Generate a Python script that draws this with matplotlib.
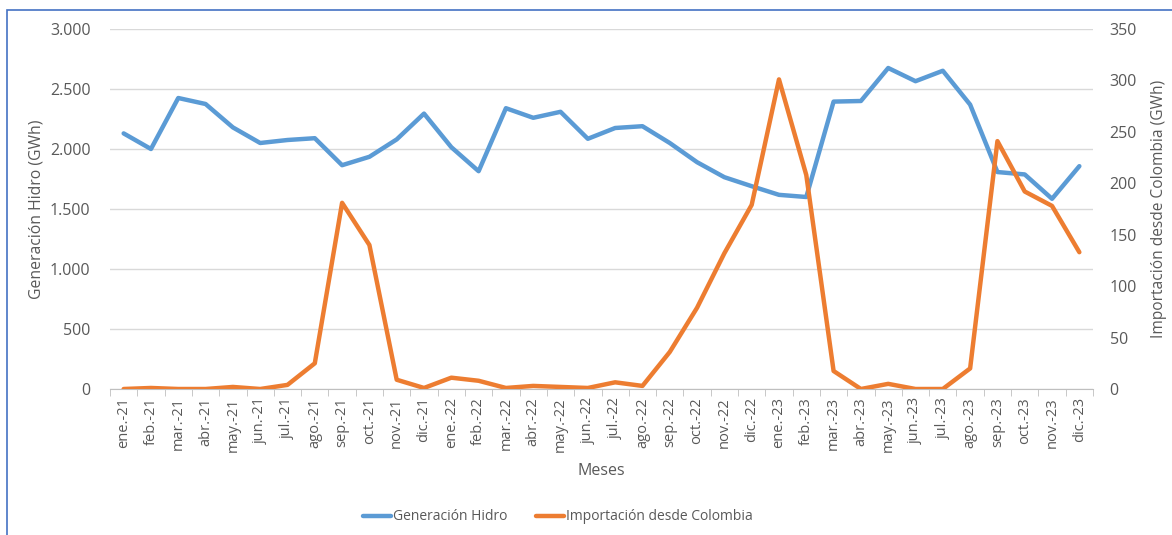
import numpy as np
import matplotlib.pyplot as plt
from matplotlib.patches import Rectangle
from matplotlib.ticker import FuncFormatter

# meses
meses = ['ene.-21', 'feb.-21', 'mar.-21', 'abr.-21', 'may.-21', 'jun.-21',
         'jul.-21', 'ago.-21', 'sep.-21', 'oct.-21', 'nov.-21', 'dic.-21',
         'ene.-22', 'feb.-22', 'mar.-22', 'abr.-22', 'may.-22', 'jun.-22',
         'jul.-22', 'ago.-22', 'sep.-22', 'oct.-22', 'nov.-22', 'dic.-22',
         'ene.-23', 'feb.-23', 'mar.-23', 'abr.-23', 'may.-23', 'jun.-23',
         'jul.-23', 'ago.-23', 'sep.-23', 'oct.-23', 'nov.-23', 'dic.-23']

# Generación Hidro (GWh), eje izquierdo
hidro = [2130, 2000, 2425, 2375, 2180, 2050, 2075, 2090, 1865, 1935, 2080, 2295,
         2015, 1815, 2340, 2260, 2310, 2085, 2175, 2190, 2050, 1890, 1765, 1690,
         1618, 1600, 2395, 2400, 2675, 2565, 2652, 2370, 1808, 1788, 1585, 1857]

# Importación desde Colombia (GWh), eje derecho
importacion = [0, 1, 0, 0, 2, 0, 4, 25, 181, 140, 9, 1,
               11, 8, 1, 3, 2, 1, 6.5, 3, 36, 79, 132, 179,
               301, 208, 17.5, 0, 5, 0, 0, 20, 241, 192, 178, 133]

AZUL = '#5B9BD5'
NARANJA = '#ED7D31'
GRIS = '#595959'

plt.rcParams['font.family'] = ['Open Sans', 'DejaVu Sans']

W, H = 1172, 535
fig = plt.figure(figsize=(W / 100, H / 100), dpi=100)
ax = fig.add_axes([110 / W, 1 - 389 / H, (1093 - 110) / W, (389 - 29) / H])
ax2 = ax.twinx()

# marco azul del gráfico (recortado)
fig.patches.append(Rectangle((7 / W, -0.5), 1.2, 0.5 + 1 - 10 / H,
                             transform=fig.transFigure, fill=False,
                             edgecolor='#4472C4', lw=1.2))

x = np.arange(len(meses))
ax.plot(x, hidro, color=AZUL, lw=3.2, solid_joinstyle='round', solid_capstyle='round',
        label='Generación Hidro', zorder=3)
ax2.plot(x, importacion, color=NARANJA, lw=3.2, solid_joinstyle='round',
         solid_capstyle='round', label='Importación desde Colombia', zorder=3)

ax.set_xlim(-0.5, len(meses) - 0.5)
ax.set_ylim(0, 3000)
ax2.set_ylim(0, 350)
ax.set_yticks(np.arange(0, 3001, 500))
ax2.set_yticks(np.arange(0, 351, 50))
ax.yaxis.set_major_formatter(FuncFormatter(lambda v, p: f'{int(v):,}'.replace(',', '.')))

ax.grid(axis='y', color='#D9D9D9', lw=1)
ax.set_axisbelow(True)

ax.set_xticks(x)
ax.set_xticklabels(meses, rotation=90, fontsize=10.5, color=GRIS)
ax.set_xticks(np.arange(-0.5, len(meses)), minor=True)
ax.tick_params(axis='x', which='major', length=0, pad=6)
ax.tick_params(axis='x', which='minor', length=5, color='#BFBFBF')
ax.tick_params(axis='y', length=0, labelsize=11.5, labelcolor=GRIS, pad=14)
ax2.tick_params(axis='y', length=0, labelsize=11.5, labelcolor=GRIS, pad=12)

for a in (ax, ax2):
    for s in ('top', 'left', 'right'):
        a.spines[s].set_visible(False)
ax2.spines['bottom'].set_visible(False)
ax.spines['bottom'].set_color('#BFBFBF')

ax.set_xlabel('Meses', fontsize=11.5, color=GRIS, labelpad=8)
ax.set_ylabel('Generación Hidro (GWh)', fontsize=11.3, color=GRIS, labelpad=4)
ax2.set_ylabel('Importación desde Colombia (GWh)', fontsize=11.2, color=GRIS, labelpad=10)

h1, l1 = ax.get_legend_handles_labels()
h2, l2 = ax2.get_legend_handles_labels()
fig.legend(h1 + h2, l1 + l2, loc='center', bbox_to_anchor=(558 / W, 1 - 517 / H),
           ncol=2, frameon=False, fontsize=10, labelcolor=GRIS,
           handlelength=2.0, handletextpad=0.15, columnspacing=2.1)

fig.savefig('out.png', dpi=100)
